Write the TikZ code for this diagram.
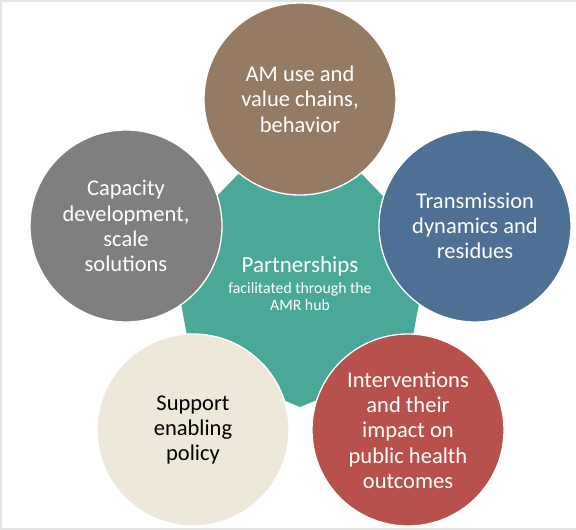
\documentclass[tikz,border=0pt]{standalone}
\usepackage{fontspec}
\setmainfont{Carlito}
\definecolor{tealc}{RGB}{74,168,152}
\definecolor{brownc}{RGB}{149,122,100}
\definecolor{grayc}{RGB}{127,127,127}
\definecolor{bluec}{RGB}{77,112,148}
\definecolor{redc}{RGB}{184,80,75}
\definecolor{beigec}{RGB}{238,232,218}
\definecolor{framec}{RGB}{228,228,228}
\begin{document}
\begin{tikzpicture}[x=1pt,y=-1pt,
  bub/.style={circle, minimum size=192pt, inner sep=0pt, draw=white, line width=1.3pt,
    align=center, font=\fontsize{22.5pt}{25.3pt}\selectfont},
  hubbig/.style={anchor=base, text=white, inner sep=0pt, font=\fontsize{23pt}{25pt}\selectfont},
  hubsmall/.style={anchor=base, text=white, inner sep=0pt, font=\fontsize{15.8pt}{17pt}\selectfont}]
\useasboundingbox (0,0) rectangle (576,530);
\fill[white] (0,0) rectangle (576,530);
% frame strips
\fill[framec] (0,0) rectangle (576,2);
\fill[framec] (0,0) rectangle (2,530);
\fill[framec] (0,528.3) rectangle (576,530);
% central heptagon
\fill[tealc] (247,165) -- (353,165) -- (430,245) -- (408,362) -- (300,407) -- (192,362) -- (170,245) -- cycle;
% circles
\node[bub, fill=brownc, text=white] (am) at (300,99) {AM use and\\value chains,\\behavior};
\node[bub, fill=grayc, text=white] (cap) at (126,226) {Capacity\\development,\\scale\\solutions};
\node[bub, fill=bluec, text=white] (trans) at (475,226) {Transmission\\dynamics and\\residues};
\node[bub, fill=beigec, text=black] (sup) at (193,430) {Support\\enabling\\policy};
\node[bub, fill=redc, text=white] (int) at (408,430) {Interventions\\and their\\impact on\\public health\\outcomes};
% hub text
\node[hubbig] (hubA) at (300,272) {Partnerships};
\node[hubsmall] (hubB) at (300,293) {facilitated through the};
\node[hubsmall] (hubC) at (300,310.5) {AMR hub};
\end{tikzpicture}
\end{document}
